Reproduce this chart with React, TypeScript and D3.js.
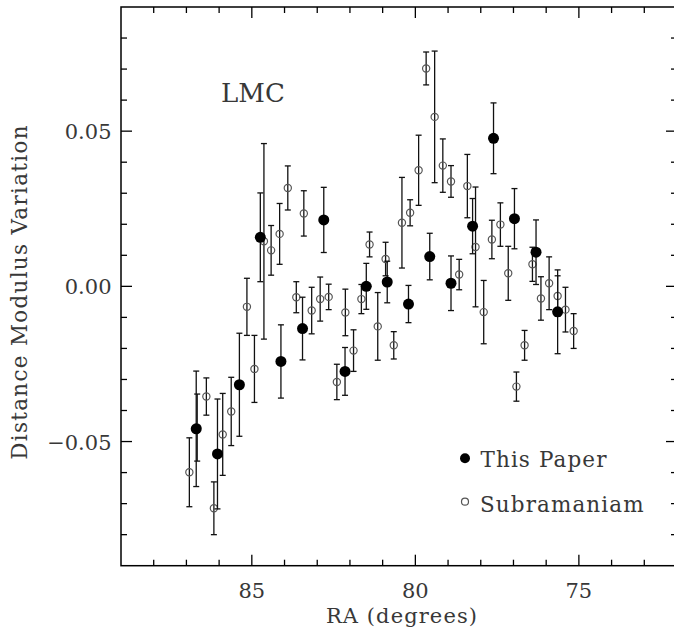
import React from "react";
import * as d3 from "d3";

// This Paper (filled)
const thisRA = [86.70, 86.05, 85.38, 84.74, 84.11, 83.45, 82.80, 82.15, 81.50, 80.86, 80.21, 79.56, 78.91, 78.25, 77.61, 76.97, 76.31, 75.65];
const thisDM = [-0.0459, -0.0540, -0.0317, 0.0158, -0.0242, -0.0136, 0.0214, -0.0274, 0.0000, 0.0014, -0.0057, 0.0096, 0.0010, 0.0194, 0.0477, 0.0218, 0.0110, -0.0082];
const thisErr = [0.0186, 0.0177, 0.0166, 0.0143, 0.0118, 0.0101, 0.0105, 0.0077, 0.0074, 0.0067, 0.0060, 0.0075, 0.0088, 0.0089, 0.0114, 0.0097, 0.0104, 0.0135];

// Subramaniam (open)
const subRA = [86.91, 86.67, 86.39, 86.16, 85.89, 85.63, 85.15, 84.92, 84.63, 84.41, 84.15, 83.90, 83.64, 83.41, 83.17, 82.91, 82.65, 82.40, 82.14, 81.89, 81.65, 81.40, 81.15, 80.91, 80.66, 80.41, 80.16, 79.90, 79.67, 79.41, 79.16, 78.91, 78.66, 78.41, 78.16, 77.91, 77.66, 77.40, 77.16, 76.91, 76.66, 76.42, 76.16, 75.91, 75.65, 75.41, 75.16];
const subDM = [-0.0599, -0.0455, -0.0355, -0.0715, -0.0477, -0.0403, -0.0066, -0.0266, 0.0145, 0.0116, 0.0169, 0.0317, -0.0035, 0.0235, -0.0078, -0.0041, -0.0034, -0.0308, -0.0084, -0.0207, -0.0041, 0.0135, -0.0129, 0.0088, -0.0190, 0.0205, 0.0237, 0.0374, 0.0702, 0.0546, 0.0389, 0.0338, 0.0038, 0.0323, 0.0127, -0.0083, 0.0151, 0.0199, 0.0042, -0.0323, -0.0190, 0.0071, -0.0039, 0.0010, -0.0031, -0.0075, -0.0144];
const subErr = [0.0111, 0.0108, 0.0060, 0.0085, 0.0132, 0.0110, 0.0092, 0.0108, 0.0315, 0.0080, 0.0098, 0.0071, 0.0050, 0.0073, 0.0075, 0.0071, 0.0041, 0.0057, 0.0075, 0.0067, 0.0047, 0.0040, 0.0109, 0.0054, 0.0044, 0.0146, 0.0042, 0.0113, 0.0053, 0.0212, 0.0086, 0.0051, 0.0049, 0.0102, 0.0193, 0.0102, 0.0062, 0.0070, 0.0087, 0.0047, 0.0048, 0.0055, 0.0070, 0.0085, 0.0065, 0.0072, 0.0056];

const xMajor = [85, 80, 75];
const xMinor = [88, 87, 86, 84, 83, 82, 81, 79, 78, 77, 76, 74, 73];
const yMajor = [-0.05, 0, 0.05];
const yMinor = [-0.08, -0.07, -0.06, -0.04, -0.03, -0.02, -0.01, 0.01, 0.02, 0.03, 0.04, 0.06, 0.07, 0.08];
const yLabels = ["\u22120.05", "0.00", "0.05"];

const FONT = "'DejaVu Serif', serif";
const TXT = "#383838";

export default function App() {
  const L = 121, R = 677, T = 7, B = 565.7;
  const x = d3.scaleLinear().domain([89, 72]).range([L, R]);
  const y = d3.scaleLinear().domain([-0.09, 0.09]).range([B, T]);
  const MAJ = 11, MIN = 6;
  const cap = 3;

  const errBar = (cx: number, v: number, e: number, key: string) => {
    const y1 = y(v + e), y2 = y(v - e);
    return (
      <g key={key} stroke="#111" strokeWidth={1.3}>
        <line x1={cx} x2={cx} y1={y1} y2={y2} />
        <line x1={cx - cap} x2={cx + cap} y1={y1} y2={y1} />
        <line x1={cx - cap} x2={cx + cap} y1={y2} y2={y2} />
      </g>
    );
  };

  return (
    <svg width={674} height={635} style={{ position: "absolute", left: 0, top: 0, background: "#fff" }}>
      <rect x={0} y={0} width={674} height={635} fill="#fff" />
      <rect x={L} y={T} width={R - L} height={B - T} fill="none" stroke="#000" strokeWidth={1.5} />
      <g stroke="#000" strokeWidth={1.3}>
        {xMajor.map((v) => (
          <g key={"xM" + v}>
            <line x1={x(v)} x2={x(v)} y1={B} y2={B - MAJ} />
            <line x1={x(v)} x2={x(v)} y1={T} y2={T + MAJ} />
          </g>
        ))}
        {xMinor.map((v) => (
          <g key={"xm" + v}>
            <line x1={x(v)} x2={x(v)} y1={B} y2={B - MIN} />
            <line x1={x(v)} x2={x(v)} y1={T} y2={T + MIN} />
          </g>
        ))}
        {yMajor.map((v) => (
          <g key={"yM" + v}>
            <line x1={L} x2={L + MAJ} y1={y(v)} y2={y(v)} />
            <line x1={R} x2={R - MAJ} y1={y(v)} y2={y(v)} />
          </g>
        ))}
        {yMinor.map((v) => (
          <g key={"ym" + v}>
            <line x1={L} x2={L + MIN} y1={y(v)} y2={y(v)} />
            <line x1={R} x2={R - MIN} y1={y(v)} y2={y(v)} />
          </g>
        ))}
      </g>
      <g fontFamily={FONT} fontSize={21} fill={TXT}>
        {xMajor.map((v) => (
          <text key={"xl" + v} x={x(v)} y={598} textAnchor="middle">{v}</text>
        ))}
        {yMajor.map((v, i) => (
          <text key={"yl" + v} x={111.5} y={y(v) + 8} textAnchor="end">{yLabels[i]}</text>
        ))}
      </g>
      <text x={402} y={623} textAnchor="middle" fontFamily={FONT} fontSize={21} letterSpacing={1.1} fill={TXT}>RA (degrees)</text>
      <text transform={`translate(27,292) rotate(-90)`} textAnchor="middle" fontFamily={FONT} fontSize={21.5} letterSpacing={1.3} fill={TXT}>Distance Modulus Variation</text>
      <text x={221} y={101.5} fontFamily={FONT} fontSize={26} fill={TXT}>LMC</text>

      {subRA.map((r, i) => errBar(x(r), subDM[i], subErr[i], "se" + i))}
      {subRA.map((r, i) => (
        <circle key={"sc" + i} cx={x(r)} cy={y(subDM[i])} r={3.6} fill="none" stroke="#555" strokeWidth={1.2} />
      ))}
      {thisRA.map((r, i) => errBar(x(r), thisDM[i], thisErr[i], "te" + i))}
      {thisRA.map((r, i) => (
        <circle key={"tc" + i} cx={x(r)} cy={y(thisDM[i])} r={5.5} fill="#000" />
      ))}

      <circle cx={465} cy={458.3} r={5} fill="#000" />
      <text x={480.5} y={466.7} fontFamily={FONT} fontSize={21.5} letterSpacing={1.1} fill={TXT}>This Paper</text>
      <circle cx={465} cy={501.7} r={3.5} fill="none" stroke="#555" strokeWidth={1.2} />
      <text x={480} y={511.7} fontFamily={FONT} fontSize={21.5} letterSpacing={1.1} fill={TXT}>Subramaniam</text>
    </svg>
  );
}
